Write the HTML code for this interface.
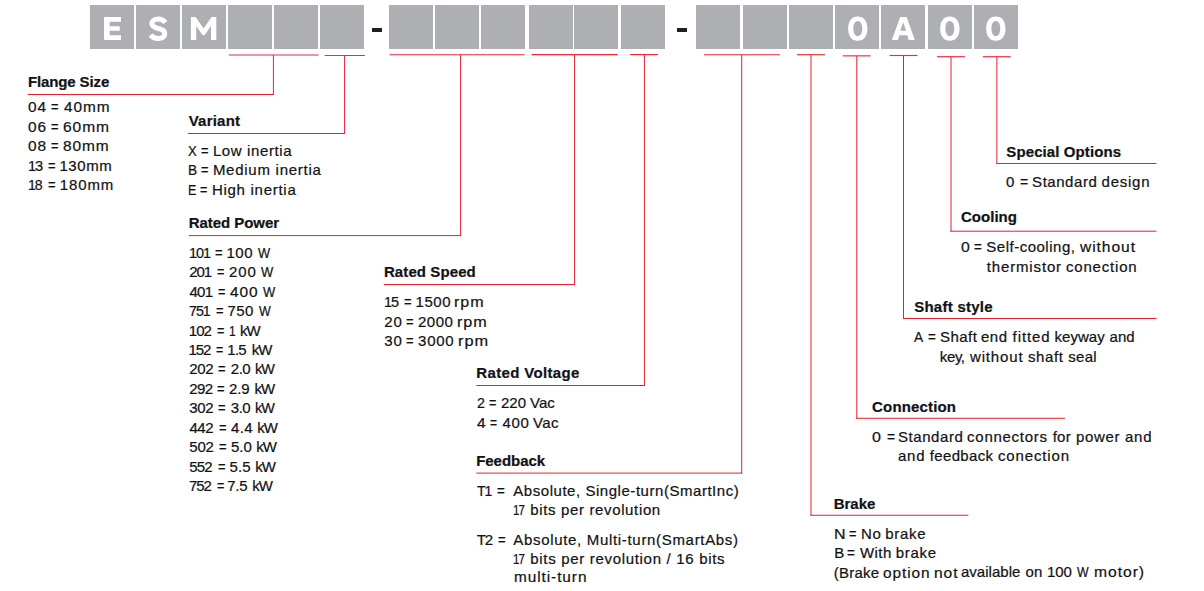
<!DOCTYPE html>
<html><head><meta charset="utf-8"><title>ESM ordering code</title>
<style>
html,body{margin:0;padding:0;background:#fff;}
body{width:1204px;height:591px;position:relative;overflow:hidden;font-family:"Liberation Sans",sans-serif;color:#121216;}
.b{position:absolute;top:5px;height:44px;background:#aeafb2;}
.b span{position:absolute;left:0;right:0;text-align:center;color:#fff;font-weight:700;font-size:32.6px;line-height:32px;top:7.7px;transform-origin:center;}
.d{position:absolute;background:#231f20;}
.t{position:absolute;white-space:pre;-webkit-text-stroke:0.22px #121216;transform-origin:0 0;font-size:15px;line-height:20px;height:20px;}
.h{font-weight:700;}
svg{position:absolute;left:0;top:0;}
</style></head><body>

<div class="b" style="left:90px;width:44px"></div>
<div class="b" style="left:136px;width:44px"></div>
<div class="b" style="left:182px;width:44px"></div>
<div class="b" style="left:228px;width:44px"></div>
<div class="b" style="left:274px;width:44px"></div>
<div class="b" style="left:320px;width:44px"></div>
<div class="b" style="left:389px;width:44px"></div>
<div class="b" style="left:435px;width:44px"></div>
<div class="b" style="left:481px;width:44px"></div>
<div class="b" style="left:529px;width:44px"></div>
<div class="b" style="left:574px;width:44px"></div>
<div class="b" style="left:621px;width:44px"></div>
<div class="b" style="left:696px;width:44px"></div>
<div class="b" style="left:743px;width:44px"></div>
<div class="b" style="left:789px;width:44px"></div>
<div class="b" style="left:835px;width:44px"></div>
<div class="b" style="left:881px;width:44px"></div>
<div class="b" style="left:928px;width:44px"></div>
<div class="b" style="left:974px;width:44px"></div>
<div class="d" style="left:372.3px;width:9.7px;top:28px;height:4px"></div>
<div class="d" style="left:677.3px;width:9.7px;top:28px;height:4px"></div>

<svg width="1204" height="591" viewBox="0 0 1204 591" fill="none">
<path d="M228.8 55.0H318.6" stroke="#ee2a3b" stroke-width="1.15"/>
<path d="M273.4 55.0V95.0M273.9 94.5H27.6" stroke="#ed1c2e" stroke-width="1"/>
<path d="M324.7 55.5H364.9" stroke="#ee2a3b" stroke-width="1.15"/>
<path d="M344.6 55.5V134.0M345.1 133.5H187.8" stroke="#ed1c2e" stroke-width="1"/>
<path d="M389.6 54.7H524.6" stroke="#ee2a3b" stroke-width="1.15"/>
<path d="M460.6 54.7V236.1M461.1 235.6H188.8" stroke="#ed1c2e" stroke-width="1"/>
<path d="M531.6 54.6H617.7" stroke="#ee2a3b" stroke-width="1.15"/>
<path d="M574.6 54.6V285.0M575.1 284.5H383.8" stroke="#ed1c2e" stroke-width="1"/>
<path d="M630.2 54.6H657.9" stroke="#ee2a3b" stroke-width="1.15"/>
<path d="M644.4 54.6V386.0M644.9 385.5H476.3" stroke="#ed1c2e" stroke-width="1"/>
<path d="M704.0 54.7H780.1" stroke="#ee2a3b" stroke-width="1.15"/>
<path d="M741.7 54.7V473.6M742.2 473.1H476.3" stroke="#ed1c2e" stroke-width="1"/>
<path d="M797.0 54.7H824.9" stroke="#ee2a3b" stroke-width="1.15"/>
<path d="M811.0 54.7V515.75M810.5 515.25H968.4" stroke="#ed1c2e" stroke-width="1"/>
<path d="M842.8 55.85H870.7" stroke="#ee2a3b" stroke-width="1.15"/>
<path d="M856.8 55.85V418.8M856.3 418.3H1064.9" stroke="#ed1c2e" stroke-width="1"/>
<path d="M889.6 55.5H917.5" stroke="#ee2a3b" stroke-width="1.15"/>
<path d="M903.5 55.5V319.0M903.0 318.5H1156.5" stroke="#ed1c2e" stroke-width="1"/>
<path d="M937.0 56.7H964.9" stroke="#ee2a3b" stroke-width="1.15"/>
<path d="M951.0 56.7V231.7M950.5 231.2H1156.5" stroke="#ed1c2e" stroke-width="1"/>
<path d="M982.8 56.7H1010.7" stroke="#ee2a3b" stroke-width="1.15"/>
<path d="M996.9 56.7V164.0M996.4 163.5H1156.5" stroke="#ed1c2e" stroke-width="1"/>
<path d="M104.05 17H121V21.8H109.6V26.3H119.75V30.8H109.6V35.3H121V40.1H104.05Z" fill="#fff" fill-rule="evenodd"/>
<path d="M190.9 40.1V17H195.6L203.6 28.4L211.6 17H216.3V40.1H211V26L204.5 35.3H202.7L196.2 26V40.1Z" fill="#fff" fill-rule="evenodd"/>
<path d="M891.85 40.05L900.2 17H906.6L914.8 40.05H908.7L907.4 35.3H899.3L898 40.05ZM903.3 22.3L906.1 30.8H900.2Z" fill="#fff" fill-rule="evenodd"/>
<path d="M848.15 28.65C848.15 21.18 851.82 16.60 857.80 16.60S867.45 21.18 867.45 28.65S863.78 40.70 857.80 40.70S848.15 36.12 848.15 28.65ZM853.35 28.55C853.35 23.99 855.13 20.95 857.80 20.95S862.25 23.99 862.25 28.55S860.47 36.15 857.80 36.15S853.35 33.11 853.35 28.55Z" fill="#fff" fill-rule="evenodd"/>
<path d="M940.20 28.65C940.20 21.18 943.87 16.60 949.85 16.60S959.50 21.18 959.50 28.65S955.83 40.70 949.85 40.70S940.20 36.12 940.20 28.65ZM945.40 28.55C945.40 23.99 947.18 20.95 949.85 20.95S954.30 23.99 954.30 28.55S952.52 36.15 949.85 36.15S945.40 33.11 945.40 28.55Z" fill="#fff" fill-rule="evenodd"/>
<path d="M986.20 28.65C986.20 21.18 989.87 16.60 995.85 16.60S1005.50 21.18 1005.50 28.65S1001.83 40.70 995.85 40.70S986.20 36.12 986.20 28.65ZM991.40 28.55C991.40 23.99 993.18 20.95 995.85 20.95S1000.30 23.99 1000.30 28.55S998.52 36.15 995.85 36.15S991.40 33.11 991.40 28.55Z" fill="#fff" fill-rule="evenodd"/>
<path d="M165.3 22.4C163.6 20.1 161.2 18.9 158.3 18.9C154.5 18.9 151.9 20.7 151.9 23.6C151.9 26.5 154.4 27.6 158.4 28.5C162.4 29.4 164.8 30.7 164.8 33.7C164.8 36.6 162.2 38.4 158.2 38.4C155 38.4 152.3 37.2 150.6 34.9" stroke="#fff" stroke-width="5" fill="none"/>
</svg>

<div class="t h" style="left:27.95px;top:71.80px;letter-spacing:-0.120px">Flange Size</div>
<div class="t" style="left:28.09px;top:96.80px;letter-spacing:0.900px;transform:scaleX(1.027)">04</div>
<div class="t" style="left:51.02px;top:96.80px;transform:scaleX(0.852)">=</div>
<div class="t" style="left:63.54px;top:96.80px;letter-spacing:0.900px;transform:scaleX(1.025)">40mm</div>
<div class="t" style="left:28.09px;top:116.80px;letter-spacing:0.900px;transform:scaleX(1.027)">06</div>
<div class="t" style="left:51.02px;top:116.80px;transform:scaleX(0.852)">=</div>
<div class="t" style="left:63.02px;top:116.80px;letter-spacing:0.900px;transform:scaleX(1.037)">60mm</div>
<div class="t" style="left:28.09px;top:135.80px;letter-spacing:0.900px;transform:scaleX(1.027)">08</div>
<div class="t" style="left:51.02px;top:135.80px;transform:scaleX(0.852)">=</div>
<div class="t" style="left:63.28px;top:135.80px;letter-spacing:0.900px;transform:scaleX(1.031)">80mm</div>
<div class="t" style="left:27.63px;top:155.80px;letter-spacing:-1.100px;transform:scaleX(0.971)">13</div>
<div class="t" style="left:47.92px;top:155.80px;transform:scaleX(0.865)">=</div>
<div class="t" style="left:59.40px;top:155.80px;letter-spacing:0.612px">130mm</div>
<div class="t" style="left:27.66px;top:174.80px;letter-spacing:-1.100px;transform:scaleX(0.940)">18</div>
<div class="t" style="left:47.92px;top:174.80px;transform:scaleX(0.865)">=</div>
<div class="t" style="left:59.67px;top:174.80px;letter-spacing:0.900px">180mm</div>
<div class="t h" style="left:188.70px;top:110.80px;letter-spacing:0.217px">Variant</div>
<div class="t" style="left:188.48px;top:140.80px;transform:scaleX(0.874)">X</div>
<div class="t" style="left:200.72px;top:140.80px;transform:scaleX(0.852)">=</div>
<div class="t" style="left:212.90px;top:140.80px;letter-spacing:0.615px">Low inertia</div>
<div class="t" style="left:188.09px;top:159.80px;transform:scaleX(0.909)">B</div>
<div class="t" style="left:200.72px;top:159.80px;transform:scaleX(0.852)">=</div>
<div class="t" style="left:212.90px;top:159.80px;letter-spacing:0.738px">Medium inertia</div>
<div class="t" style="left:188.16px;top:179.80px;transform:scaleX(0.835)">E</div>
<div class="t" style="left:199.83px;top:179.80px;transform:scaleX(0.839)">=</div>
<div class="t" style="left:211.90px;top:179.80px;letter-spacing:0.727px">High inertia</div>
<div class="t h" style="left:188.75px;top:212.80px;letter-spacing:-0.050px">Rated Power</div>
<div class="t" style="left:188.74px;top:242.80px;letter-spacing:-1.100px;transform:scaleX(0.962)">101</div>
<div class="t" style="left:215.02px;top:242.80px;transform:scaleX(0.865)">=</div>
<div class="t" style="left:226.50px;top:242.80px;letter-spacing:0.500px">100</div>
<div class="t" style="left:257.90px;top:242.80px;transform:scaleX(0.856)">W</div>
<div class="t" style="left:189.15px;top:261.80px;letter-spacing:-1.100px">201</div>
<div class="t" style="left:216.93px;top:261.80px;transform:scaleX(0.839)">=</div>
<div class="t" style="left:229.05px;top:261.80px;letter-spacing:0.900px">200</div>
<div class="t" style="left:260.80px;top:261.80px;transform:scaleX(0.863)">W</div>
<div class="t" style="left:189.45px;top:281.80px;letter-spacing:-0.675px">401</div>
<div class="t" style="left:218.02px;top:281.80px;transform:scaleX(0.852)">=</div>
<div class="t" style="left:230.04px;top:281.80px;letter-spacing:0.900px;transform:scaleX(1.029)">400</div>
<div class="t" style="left:262.50px;top:281.80px;transform:scaleX(0.863)">W</div>
<div class="t" style="left:188.99px;top:300.80px;letter-spacing:-1.100px;transform:scaleX(0.951)">751</div>
<div class="t" style="left:215.82px;top:300.80px;transform:scaleX(0.865)">=</div>
<div class="t" style="left:227.55px;top:300.80px;letter-spacing:0.375px">750</div>
<div class="t" style="left:258.80px;top:300.80px;transform:scaleX(0.828)">W</div>
<div class="t" style="left:188.70px;top:320.80px;letter-spacing:-0.900px">102</div>
<div class="t" style="left:216.93px;top:320.80px;transform:scaleX(0.839)">=</div>
<div class="t" style="left:228.90px;top:320.80px;transform:scaleX(0.800)">1</div>
<div class="t" style="left:240.05px;top:320.80px;letter-spacing:-1.100px">kW</div>
<div class="t" style="left:188.45px;top:339.80px;letter-spacing:-1.100px">152</div>
<div class="t" style="left:215.84px;top:339.80px;transform:scaleX(0.826)">=</div>
<div class="t" style="left:227.30px;top:339.80px;letter-spacing:-0.725px">1.5</div>
<div class="t" style="left:251.75px;top:339.80px;letter-spacing:-0.900px">kW</div>
<div class="t" style="left:189.20px;top:358.80px;letter-spacing:-0.300px">202</div>
<div class="t" style="left:218.42px;top:358.80px;transform:scaleX(0.865)">=</div>
<div class="t" style="left:230.80px;top:358.80px;letter-spacing:-0.500px">2.0</div>
<div class="t" style="left:255.48px;top:358.80px;letter-spacing:-1.100px;transform:scaleX(0.960)">kW</div>
<div class="t" style="left:189.20px;top:378.80px;letter-spacing:-0.550px">292</div>
<div class="t" style="left:217.22px;top:378.80px;transform:scaleX(0.865)">=</div>
<div class="t" style="left:229.00px;top:378.80px;letter-spacing:-0.175px">2.9</div>
<div class="t" style="left:254.60px;top:378.80px;letter-spacing:-1.100px">kW</div>
<div class="t" style="left:189.20px;top:397.80px;letter-spacing:-0.300px">302</div>
<div class="t" style="left:218.42px;top:397.80px;transform:scaleX(0.865)">=</div>
<div class="t" style="left:230.80px;top:397.80px;letter-spacing:-0.500px">3.0</div>
<div class="t" style="left:255.48px;top:397.80px;letter-spacing:-1.100px;transform:scaleX(0.960)">kW</div>
<div class="t" style="left:189.45px;top:417.80px;letter-spacing:-0.425px">442</div>
<div class="t" style="left:218.92px;top:417.80px;transform:scaleX(0.865)">=</div>
<div class="t" style="left:231.05px;top:417.80px;letter-spacing:0.375px">4.4</div>
<div class="t" style="left:257.15px;top:417.80px;letter-spacing:-1.000px">kW</div>
<div class="t" style="left:189.20px;top:436.80px;letter-spacing:-0.150px">502</div>
<div class="t" style="left:218.72px;top:436.80px;transform:scaleX(0.865)">=</div>
<div class="t" style="left:231.00px;top:436.80px">5.0</div>
<div class="t" style="left:256.30px;top:436.80px;letter-spacing:-1.100px">kW</div>
<div class="t" style="left:189.20px;top:456.80px;letter-spacing:-0.750px">552</div>
<div class="t" style="left:217.72px;top:456.80px;transform:scaleX(0.865)">=</div>
<div class="t" style="left:229.40px;top:456.80px;letter-spacing:0.175px">5.5</div>
<div class="t" style="left:255.25px;top:456.80px;letter-spacing:-1.100px">kW</div>
<div class="t" style="left:188.92px;top:475.80px;letter-spacing:-1.100px">752</div>
<div class="t" style="left:216.93px;top:475.80px;transform:scaleX(0.839)">=</div>
<div class="t" style="left:227.35px;top:475.80px;letter-spacing:-0.350px">7.5</div>
<div class="t" style="left:252.25px;top:475.80px;letter-spacing:-1.000px">kW</div>
<div class="t h" style="left:383.95px;top:261.80px;letter-spacing:0.095px">Rated Speed</div>
<div class="t" style="left:383.74px;top:291.80px;letter-spacing:-1.100px;transform:scaleX(0.961)">15</div>
<div class="t" style="left:403.62px;top:291.80px;transform:scaleX(0.865)">=</div>
<div class="t" style="left:415.50px;top:291.80px;letter-spacing:0.533px">1500</div>
<div class="t" style="left:454.30px;top:291.80px;letter-spacing:0.900px;transform:scaleX(1.071)">rpm</div>
<div class="t" style="left:384.20px;top:311.80px;letter-spacing:0.850px">20</div>
<div class="t" style="left:405.82px;top:311.80px;transform:scaleX(0.865)">=</div>
<div class="t" style="left:417.90px;top:311.80px;letter-spacing:0.567px">2000</div>
<div class="t" style="left:457.19px;top:311.80px;letter-spacing:0.900px;transform:scaleX(1.079)">rpm</div>
<div class="t" style="left:384.20px;top:330.80px;letter-spacing:0.850px">30</div>
<div class="t" style="left:405.82px;top:330.80px;transform:scaleX(0.865)">=</div>
<div class="t" style="left:418.10px;top:330.80px;letter-spacing:0.733px">3000</div>
<div class="t" style="left:457.88px;top:330.80px;letter-spacing:0.900px;transform:scaleX(1.090)">rpm</div>
<div class="t h" style="left:476.35px;top:362.80px;letter-spacing:0.346px">Rated Voltage</div>
<div class="t" style="left:477.02px;top:392.80px;transform:scaleX(0.952)">2</div>
<div class="t" style="left:488.83px;top:392.80px;transform:scaleX(0.839)">=</div>
<div class="t" style="left:500.90px;top:392.80px;letter-spacing:0.050px">220</div>
<div class="t" style="left:530.10px;top:392.80px;letter-spacing:-0.100px">Vac</div>
<div class="t" style="left:477.24px;top:412.80px;transform:scaleX(1.032)">4</div>
<div class="t" style="left:489.95px;top:412.80px;transform:scaleX(0.800)">=</div>
<div class="t" style="left:502.45px;top:412.80px;letter-spacing:0.725px">400</div>
<div class="t" style="left:533.10px;top:412.80px;letter-spacing:0.350px">Vac</div>
<div class="t h" style="left:476.15px;top:450.80px;letter-spacing:-0.029px">Feedback</div>
<div class="t" style="left:476.67px;top:480.80px;letter-spacing:-1.100px;transform:scaleX(0.927)">T1</div>
<div class="t" style="left:496.60px;top:480.80px;transform:scaleX(0.890)">=</div>
<div class="t" style="left:513.30px;top:480.80px;letter-spacing:0.540px">Absolute, Single-turn(SmartInc)</div>
<div class="t" style="left:512.73px;top:499.80px;letter-spacing:-1.100px;transform:scaleX(0.770)">17</div>
<div class="t" style="left:530.25px;top:499.80px;letter-spacing:0.642px">bits per revolution</div>
<div class="t" style="left:476.65px;top:529.80px;letter-spacing:-1.050px">T2</div>
<div class="t" style="left:497.71px;top:529.80px;transform:scaleX(0.877)">=</div>
<div class="t" style="left:513.30px;top:529.80px;letter-spacing:0.678px">Absolute, Multi-turn(SmartAbs)</div>
<div class="t" style="left:512.73px;top:548.80px;letter-spacing:-1.100px;transform:scaleX(0.770)">17</div>
<div class="t" style="left:530.25px;top:548.80px;letter-spacing:0.686px">bits per revolution / 16 bits</div>
<div class="t" style="left:513.73px;top:566.80px;letter-spacing:0.900px;transform:scaleX(1.026)">multi-turn</div>
<div class="t h" style="left:1006.35px;top:141.80px;letter-spacing:0.093px">Special Options</div>
<div class="t" style="left:1006.05px;top:171.80px">0</div>
<div class="t" style="left:1019.59px;top:171.80px;transform:scaleX(0.929)">=</div>
<div class="t" style="left:1032.10px;top:171.80px;letter-spacing:0.543px">Standard</div>
<div class="t" style="left:1101.60px;top:171.80px;letter-spacing:0.740px">design</div>
<div class="t h" style="left:961.00px;top:206.80px;letter-spacing:0.017px">Cooling</div>
<div class="t" style="left:961.47px;top:236.80px;transform:scaleX(1.053)">0</div>
<div class="t" style="left:973.60px;top:236.80px;transform:scaleX(0.890)">=</div>
<div class="t" style="left:986.30px;top:236.80px;letter-spacing:0.504px">Self-cooling,</div>
<div class="t" style="left:1080.16px;top:236.80px;letter-spacing:0.900px;transform:scaleX(1.039)">without</div>
<div class="t" style="left:986.80px;top:256.80px;letter-spacing:0.844px">thermistor</div>
<div class="t" style="left:1066.00px;top:256.80px;letter-spacing:0.800px">conection</div>
<div class="t h" style="left:914.15px;top:296.80px;letter-spacing:0.265px">Shaft style</div>
<div class="t" style="left:914.30px;top:326.80px;transform:scaleX(0.910)">A</div>
<div class="t" style="left:927.70px;top:326.80px;transform:scaleX(0.890)">=</div>
<div class="t" style="left:940.10px;top:326.80px;letter-spacing:0.425px">Shaft</div>
<div class="t" style="left:981.00px;top:326.80px;letter-spacing:0.475px">end</div>
<div class="t" style="left:1012.62px;top:326.80px;letter-spacing:0.900px">fitted</div>
<div class="t" style="left:1054.55px;top:326.80px;letter-spacing:0.030px">keyway</div>
<div class="t" style="left:1109.50px;top:326.80px;letter-spacing:0.075px">and</div>
<div class="t" style="left:939.85px;top:346.80px;letter-spacing:-0.400px">key,</div>
<div class="t" style="left:969.95px;top:346.80px;letter-spacing:0.858px">without</div>
<div class="t" style="left:1027.95px;top:346.80px;letter-spacing:0.587px">shaft</div>
<div class="t" style="left:1068.25px;top:346.80px;letter-spacing:0.267px">seal</div>
<div class="t h" style="left:872.10px;top:396.80px;letter-spacing:0.161px">Connection</div>
<div class="t" style="left:871.97px;top:426.80px;transform:scaleX(1.067)">0</div>
<div class="t" style="left:887.09px;top:426.80px;transform:scaleX(0.916)">=</div>
<div class="t" style="left:898.00px;top:426.80px;letter-spacing:0.557px">Standard</div>
<div class="t" style="left:967.10px;top:426.80px;letter-spacing:0.722px">connectors</div>
<div class="t" style="left:1052.70px;top:426.80px;letter-spacing:0.250px">for</div>
<div class="t" style="left:1075.95px;top:426.80px;letter-spacing:0.675px">power</div>
<div class="t" style="left:1125.10px;top:426.80px;letter-spacing:0.675px">and</div>
<div class="t" style="left:898.00px;top:445.80px;letter-spacing:0.775px">and</div>
<div class="t" style="left:929.80px;top:445.80px;letter-spacing:0.343px">feedback</div>
<div class="t" style="left:998.00px;top:445.80px;letter-spacing:0.850px">conection</div>
<div class="t h" style="left:833.75px;top:493.80px;letter-spacing:-0.025px">Brake</div>
<div class="t" style="left:833.54px;top:523.80px;transform:scaleX(1.063)">N</div>
<div class="t" style="left:848.62px;top:523.80px;transform:scaleX(0.852)">=</div>
<div class="t" style="left:860.88px;top:523.80px;letter-spacing:0.900px">No</div>
<div class="t" style="left:885.15px;top:523.80px;letter-spacing:0.713px">brake</div>
<div class="t" style="left:834.17px;top:542.80px">B</div>
<div class="t" style="left:847.00px;top:542.80px;transform:scaleX(0.890)">=</div>
<div class="t" style="left:859.90px;top:542.80px;letter-spacing:0.450px">With</div>
<div class="t" style="left:895.85px;top:542.80px;letter-spacing:0.688px">brake</div>
<div class="t" style="left:833.85px;top:562.80px;letter-spacing:0.230px">(Brake</div>
<div class="t" style="left:883.29px;top:562.80px;letter-spacing:0.900px;transform:scaleX(1.027)">option</div>
<div class="t" style="left:934.02px;top:562.80px;letter-spacing:0.900px;transform:scaleX(1.039)">not</div>
<div class="t" style="left:960.90px;top:561.80px;letter-spacing:0.031px">available</div>
<div class="t" style="left:1025.50px;top:561.80px;letter-spacing:0.150px">on</div>
<div class="t" style="left:1047.10px;top:561.80px;letter-spacing:-0.200px">100</div>
<div class="t" style="left:1077.30px;top:561.80px;transform:scaleX(0.821)">W</div>
<div class="t" style="left:1093.82px;top:561.80px;letter-spacing:0.900px;transform:scaleX(1.046)">motor)</div>
</body></html>
